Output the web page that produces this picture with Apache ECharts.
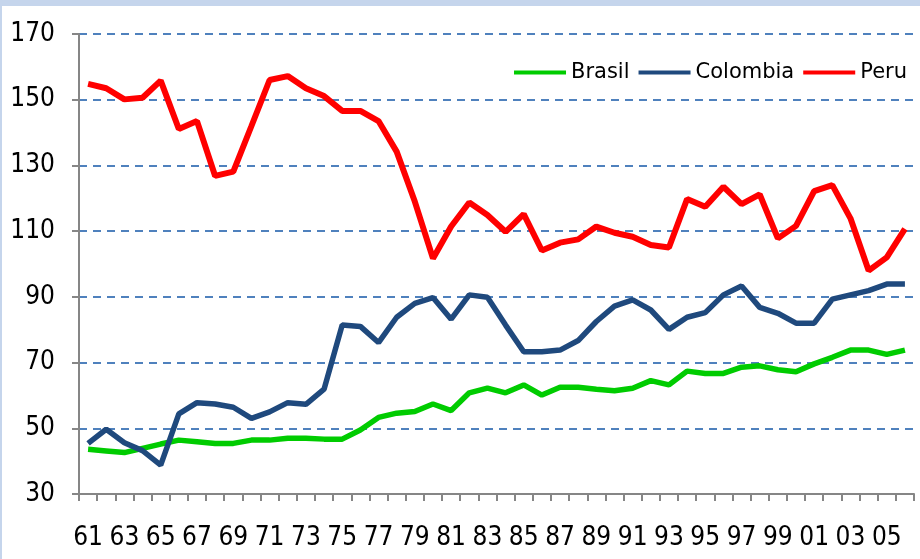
<!DOCTYPE html>
<html>
<head>
<meta charset="utf-8">
<script src="https://cdn.jsdelivr.net/npm/echarts@6/dist/echarts.min.js"></script>
<style>
  html, body { margin: 0; padding: 0; background: #fff; }
  #wrap { position: relative; width: 920px; height: 559px; }
  #chart { width: 920px; height: 559px; }
  .bandTop { position: absolute; left: 0; top: 0; width: 920px; height: 6px; background: #c5d5ec; }
  .bandLeft { position: absolute; left: 0; top: 0; width: 2px; height: 559px; background: #c5d5ec; }
</style>
</head>
<body>
<div id="wrap">
  <div id="chart"></div>
  <div class="bandTop"></div>
  <div class="bandLeft"></div>
</div>
<script>
// 年份 1961-2006
var years = ['61','62','63','64','65','66','67','68','69','70','71','72','73','74','75','76','77','78','79','80',
  '81','82','83','84','85','86','87','88','89','90','91','92','93','94','95','96','97','98','99','00',
  '01','02','03','04','05','06'];

var brasil = [43.6, 43.1, 42.6, 43.9, 45.2, 46.4, 45.9, 45.4, 45.4, 46.4, 46.4, 47, 47, 46.7, 46.7, 49.5, 53.3, 54.6, 55.1, 57.4,
  55.4, 60.8, 62.2, 60.8, 63.2, 60.1, 62.5, 62.5, 61.9, 61.4, 62.2, 64.5, 63.2, 67.4, 66.7, 66.7, 68.6, 69, 67.8, 67.2,
  69.6, 71.6, 73.8, 73.8, 72.5, 73.8];

var colombia = [45.4, 49.7, 45.6, 43.2, 38.8, 54.4, 57.8, 57.4, 56.4, 53, 55, 57.8, 57.3, 61.9, 81.4, 81, 76.1, 83.8, 88, 89.8,
  83.2, 90.6, 89.9, 81.4, 73.3, 73.3, 73.8, 76.7, 82.5, 87.2, 89.1, 86, 80.1, 83.8, 85.2, 90.6, 93.3, 86.8, 85, 82,
  82, 89.3, 90.6, 91.9, 93.9, 93.9];

var peru = [154.8, 153.5, 150.1, 150.6, 155.8, 141.1, 143.5, 126.8, 128.1, 142, 156, 157.2, 153.5, 151.1, 146.6, 146.6, 143.5, 134.2, 119, 101.7,
  111.4, 118.7, 114.9, 109.8, 115.2, 104.1, 106.5, 107.5, 111.4, 109.5, 108.3, 105.8, 105, 119.8, 117.4, 123.5, 118.2, 121.2, 107.8, 111.6,
  122.2, 124, 113.9, 98, 102, 110.7];

var yMin = 30, yMax = 170, yStep = 20;

var axisFont = '"Liberation Sans Narrow", "DejaVu Sans Condensed", sans-serif';

var myChart = echarts.init(document.getElementById('chart'));
var option = {
  animation: false,
  backgroundColor: '#fff',
  grid: {
    left: 79,
    right: 6,
    top: 34,
    bottom: 65
  },
  legend: {
    right: 8,
    top: 57,
    icon: 'rect',
    itemWidth: 52,
    itemHeight: 4,
    itemGap: 9,
    textStyle: {
      fontFamily: '"DejaVu Sans", sans-serif',
      fontSize: 21,
      color: '#000'
    },
    data: ['Brasil', 'Colombia', 'Peru']
  },
  xAxis: {
    type: 'category',
    data: years,
    boundaryGap: true,
    axisLine: { lineStyle: { color: '#868686', width: 2 } },
    axisTick: { show: true, interval: 0, length: 7, lineStyle: { color: '#868686', width: 2 } },
    axisLabel: {
      interval: 1, // 隔一个显示
      margin: 31,
      color: '#000',
      fontFamily: axisFont,
      fontSize: 26
    },
    splitLine: { show: false }
  },
  yAxis: {
    type: 'value',
    min: yMin,
    max: yMax,
    interval: yStep,
    axisLine: { show: true, lineStyle: { color: '#868686', width: 2 } },
    axisTick: { show: true, length: 7, lineStyle: { color: '#868686', width: 2 } },
    axisLabel: {
      margin: 24,
      color: '#000',
      fontFamily: axisFont,
      fontSize: 26
    },
    splitLine: {
      show: true,
      lineStyle: { color: '#4f81bd', width: 2, type: [8, 6] }
    }
  },
  series: [{
    name: 'Brasil',
    type: 'line',
    data: brasil,
    symbol: 'none',
    itemStyle: { color: '#00cc00' },
    lineStyle: { color: '#00cc00', width: 5.5 }
  }, {
    name: 'Colombia',
    type: 'line',
    data: colombia,
    symbol: 'none',
    itemStyle: { color: '#1f497d' },
    lineStyle: { color: '#1f497d', width: 5.5 }
  }, {
    name: 'Peru',
    type: 'line',
    data: peru,
    symbol: 'none',
    itemStyle: { color: '#ff0000' },
    lineStyle: { color: '#ff0000', width: 6 }
  }]
};
myChart.setOption(option);
</script>
</body>
</html>
